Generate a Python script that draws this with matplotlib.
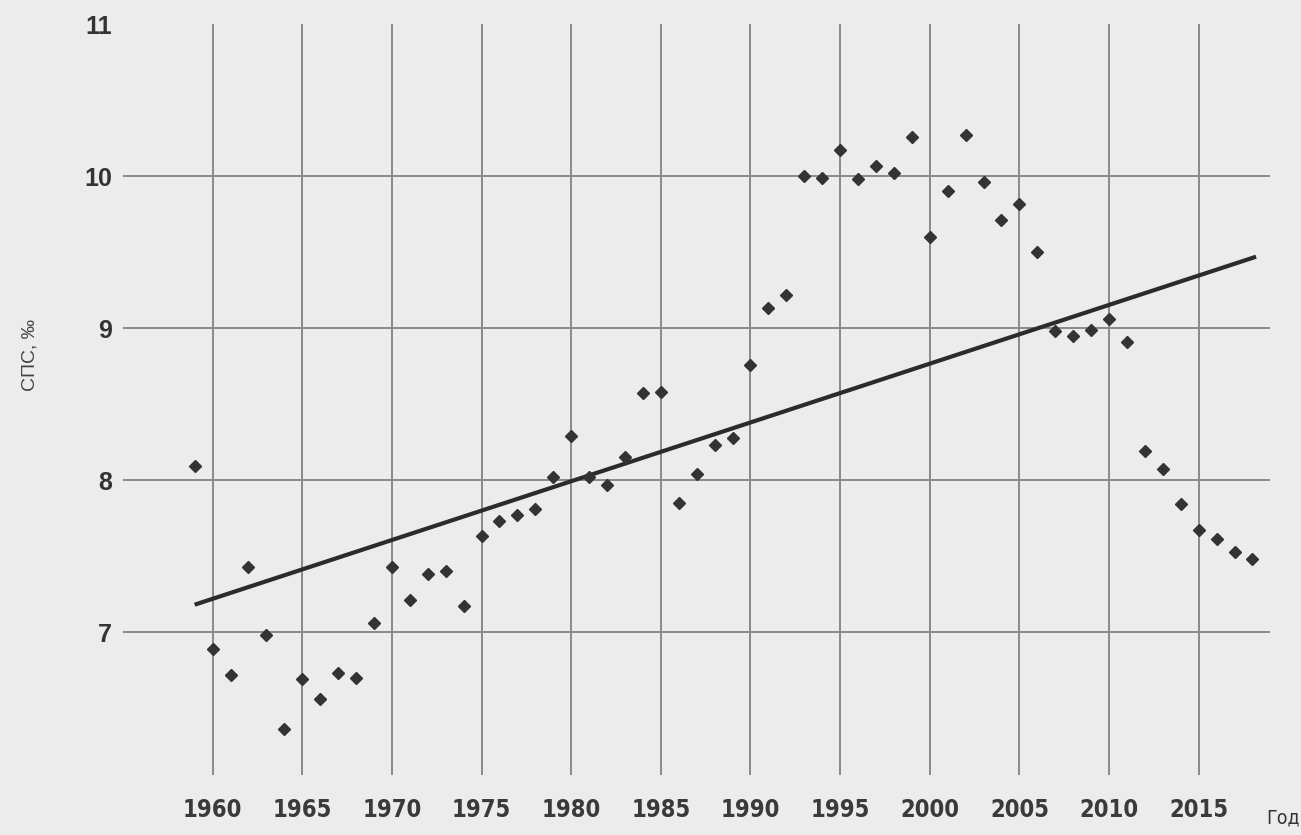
import matplotlib.pyplot as plt

# Crude birth rate (СПС, ‰) by year
years = list(range(1959, 2019))
rate = [8.09, 6.89, 6.72, 7.43, 6.98, 6.36, 6.69, 6.56, 6.73, 6.70,
        7.06, 7.43, 7.21, 7.38, 7.40, 7.17, 7.63, 7.73, 7.77, 7.81,
        8.02, 8.29, 8.02, 7.97, 8.15, 8.57, 8.58, 7.85, 8.04, 8.23,
        8.28, 8.76, 9.13, 9.22, 10.00, 9.99, 10.17, 9.98, 10.07, 10.02,
        10.26, 9.60, 9.90, 10.27, 9.96, 9.71, 9.82, 9.50, 8.98, 8.95,
        8.99, 9.06, 8.91, 8.19, 8.07, 7.84, 7.67, 7.61, 7.53, 7.48]

# linear trend at its ends
trend_years = [1959, 2018.2]
trend_rate = [7.18, 9.47]

x_ticks = list(range(1960, 2016, 5))
y_ticks = [7, 8, 9, 10, 11]

fig = plt.figure(figsize=(13.01, 8.35), dpi=100, facecolor='#ececec')
ax = fig.add_axes([0.0945, 0.072, 0.882, 0.899])
ax.set_facecolor('#ececec')

ax.plot(trend_years, trend_rate, color='#2b2b2b', linewidth=3.0, solid_capstyle='butt', zorder=3)
ax.plot(years, rate, linestyle='none', marker='D', markersize=6.5,
        color='#333333', zorder=4)

ax.set_xlim(1955, 2019)
ax.set_ylim(6.06, 11.0)
ax.set_xticks(x_ticks)
ax.set_yticks(y_ticks)

# no frame, only the grid
for s in ax.spines.values():
    s.set_visible(False)
ax.tick_params(length=0)
ax.tick_params(axis='y', pad=8)
ax.tick_params(axis='x', pad=17)

ax.grid(True, color='#8a8a8a', linewidth=1.4)
ax.yaxis.get_gridlines()[-1].set_visible(False)
ax.set_axisbelow(True)

for lab in ax.get_xticklabels():
    lab.set_family('DejaVu Sans')
    lab.set_stretch('condensed')
    lab.set_fontsize(17)
    lab.set_fontweight('bold')
    lab.set_color('#3a3a3a')
for lab in ax.get_yticklabels():
    lab.set_family(['Liberation Sans', 'DejaVu Sans'])
    lab.set_fontsize(18)
    lab.set_fontweight('bold')
    lab.set_color('#333333')

fig.text(0.023, 0.575, 'СПС, ‰', rotation=90, ha='center', va='center',
         fontsize=14, color='#444444', family=['Liberation Sans', 'DejaVu Sans'])
fig.text(0.986, 0.02, 'Год', ha='center', va='center', stretch='condensed',
         fontsize=14, color='#333333', family='DejaVu Sans')

fig.savefig('out.png', dpi=100, facecolor=fig.get_facecolor())
